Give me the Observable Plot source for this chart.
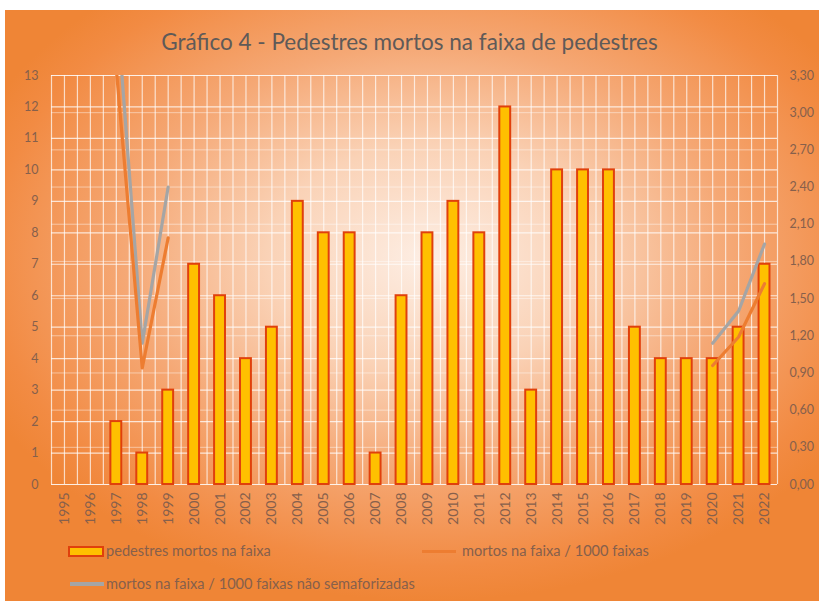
<!DOCTYPE html>
<html>
<head>
<meta charset="utf-8">
<script src="https://cdn.jsdelivr.net/npm/d3@7"></script>
<script src="https://cdn.jsdelivr.net/npm/@observablehq/plot@0.6"></script>
<style>
  html, body { margin: 0; padding: 0; background: #fff; }
  #wrap { position: relative; width: 819px; height: 601px; overflow: hidden; }
  #bg { position: absolute; left: 5px; top: 10px; right: 0; bottom: 0;
        background: radial-gradient(ellipse 60% 58% at 52% 42%, #fdeee4 0%, #fad2b6 33%, #f5a875 62%, #f28b43 90%, #ef8536 100%); }
  #title { position: absolute; left: 0; width: 819px; top: 28px; line-height: 28px; text-align: center;
           font-family: Lato, "Open Sans", sans-serif; font-size: 22.5px; color: #5f5a58; }
  #chart { position: absolute; left: 0; top: 0; }
  .leg { position: absolute; font-family: Lato, "Open Sans", sans-serif; font-size: 14.6px; line-height: 18px; color: #86604c; white-space: nowrap; }
  .sw { position: absolute; }
</style>
</head>
<body>
<div id="wrap">
  <div id="bg"></div>
  <div id="title">Gráfico 4 - Pedestres mortos na faixa de pedestres</div>
  <div id="chart"></div>
  <div class="sw" style="left:68px;top:546px;width:32px;height:7px;background:#FFC000;border:2px solid #E0400C;"></div>
  <div class="leg" style="left:106px;top:542px;">pedestres mortos na faixa</div>
  <div class="sw" style="left:422px;top:550px;width:34px;height:3px;background:#ED7D31;"></div>
  <div class="leg" style="left:462px;top:542px;">mortos na faixa / 1000 faixas</div>
  <div class="sw" style="left:70px;top:582px;width:34px;height:4px;background:#A5A5A5;"></div>
  <div class="leg" style="left:106px;top:575px;">mortos na faixa / 1000 faixas não semaforizadas</div>
</div>
<script>
const years = [1995,1996,1997,1998,1999,2000,2001,2002,2003,2004,2005,2006,2007,2008,2009,2010,2011,2012,2013,2014,2015,2016,2017,2018,2019,2020,2021,2022];
const pedestresMortos = [0,0,2,1,3,7,6,4,5,9,8,8,1,6,8,9,8,12,3,10,10,10,5,4,4,4,5,7];
const porMilFaixas = [null,null,3.35,0.94,1.99,null,null,null,null,null,null,null,null,null,null,null,null,null,null,null,null,null,null,null,null,0.96,1.19,1.62];
const porMilNaoSemaf = [null,null,3.9,1.14,2.40,null,null,null,null,null,null,null,null,null,null,null,null,null,null,null,null,null,null,null,null,1.14,1.40,1.94];
const leftTicks = [0,1,2,3,4,5,6,7,8,9,10,11,12,13];
const rightTicks = [0,0.3,0.6,0.9,1.2,1.5,1.8,2.1,2.4,2.7,3.0,3.3];

const leftMax = 13, rightMax = 3.3;
const toLeft = v => v == null ? NaN : v * leftMax / rightMax;

const bars = years.map((y, i) => ({year: y, v: pedestresMortos[i]}));
const orange = years.map((y, i) => ({year: y, v: toLeft(porMilFaixas[i])}));
const gray = years.map((y, i) => ({year: y, v: toLeft(porMilNaoSemaf[i])}));
const vgrid = years.flatMap(y => [y - 0.5, y]).concat([years[years.length - 1] + 0.5]);
const halfW = 0.21;
const labelColor = "#86604c";

const chart = Plot.plot({
  width: 819,
  height: 540,
  marginTop: 75,
  marginLeft: 51,
  marginRight: 42,
  marginBottom: 56,
  style: {background: "transparent", fontFamily: "Lato, 'Open Sans', sans-serif", fontSize: "12px", color: labelColor},
  x: {domain: [years[0] - 0.5, years[years.length - 1] + 0.5], axis: null},
  y: {domain: [0, leftMax], axis: null},
  marks: [
    Plot.ruleY(leftTicks, {stroke: "#ffffff", strokeOpacity: 0.75, strokeWidth: 1.2}),
    Plot.ruleY(rightTicks.map(toLeft), {stroke: "#ffffff", strokeOpacity: 0.45, strokeWidth: 1}),
    Plot.ruleX(vgrid, {stroke: "#ffffff", strokeOpacity: 0.7, strokeWidth: 1.2}),
    Plot.rectY(bars, {x1: d => d.year - halfW, x2: d => d.year + halfW, y1: 0, y2: "v", fill: "#FFC000", stroke: "#E0400C", strokeWidth: 2}),
    Plot.line(gray, {x: "year", y: "v", stroke: "#A5A5A5", strokeWidth: 3.2, clip: true}),
    Plot.line(orange, {x: "year", y: "v", stroke: "#ED7D31", strokeWidth: 3.2, clip: true}),
    Plot.axisY(leftTicks, {anchor: "left", label: null, tickSize: 0, tickPadding: 13, fill: labelColor, fontSize: 12.5}),
    Plot.axisY(rightTicks.map(toLeft), {anchor: "right", label: null, tickSize: 0, tickPadding: 12, fill: labelColor, fontSize: 12.5,
      tickFormat: v => (v * rightMax / leftMax).toFixed(2).replace(".", ",")}),
    Plot.axisX(years, {anchor: "bottom", label: null, tickSize: 0, tickPadding: 8, tickRotate: -90, fill: labelColor, fontSize: 14, tickFormat: d => String(d)})
  ]
});
document.getElementById("chart").appendChild(chart);
</script>
</body>
</html>
